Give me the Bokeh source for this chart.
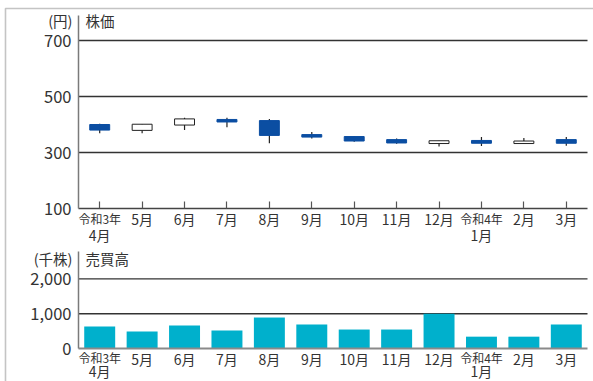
from bokeh.plotting import figure
from bokeh.models import (ColumnDataSource, Range1d, FixedTicker, Label, BoxAnnotation,
                          LinearAxis)
from bokeh.embed import file_html
from bokeh.resources import INLINE

# ---------------- data ----------------
months = ["4月", "5月", "6月", "7月", "8月", "9月", "10月", "11月", "12月", "1月", "2月", "3月"]
era_index = [0, 9]
era_text = ["令和3年", "令和4年"]
price_open = [400, 379, 398, 418, 414, 364, 357, 346, 332, 343, 332, 346]
price_close = [380, 401, 420, 409, 361, 355, 341, 334, 342, 333, 341, 333]
price_high = [403, 402, 424, 424, 420, 373, 358, 350, 342, 355, 352, 355]
price_low = [369, 369, 380, 390, 333, 350, 338, 331, 321, 323, 331, 324]
volume = [630, 485, 660, 520, 890, 690, 545, 545, 995, 340, 340, 690]
price_ticks = [100, 300, 500, 700]
volume_ticks = [0, 1000, 2000]
volume_tick_labels = ["0", "1,000", "2,000"]

# ---------------- layout constants (canvas pixels) ----------------
W, H = 593, 381
PLOT_L, PLOT_R = 78, 587
SX = (PLOT_R - PLOT_L) / len(months)
P_BASE_Y, P_PPU = 208, 0.28          # price 100 sits at y=208, 0.28 px per yen
V_BASE_Y, V_PPU = 348, 0.0348        # volume 0 sits at y=348


def cx(px):
    return -0.5 + (px - PLOT_L) / SX


def cp(py):
    return price_ticks[0] + (P_BASE_Y - py) / P_PPU


def cv(py):
    return (V_BASE_Y - py) / V_PPU


FONT = "Noto Sans CJK JP"
TXT = "#333333"
BLUE = "#0b4ea2"
TEAL = "#00b0cc"

xs = list(range(len(months)))
up = [c >= o for o, c in zip(price_open, price_close)]
candles = ColumnDataSource(dict(
    x=xs,
    top=[max(o, c) for o, c in zip(price_open, price_close)],
    bottom=[min(o, c) for o, c in zip(price_open, price_close)],
    high=price_high,
    low=price_low,
    fill=["#ffffff" if u else BLUE for u in up],
    line=["#222222" if u else BLUE for u in up],
))
vols = ColumnDataSource(dict(x=xs, v=volume))

p = figure(width=W, height=H, x_range=Range1d(cx(0), cx(W)), y_range=Range1d(cp(H), cp(0)),
           x_axis_location=None, y_axis_location=None, min_border=0,
           output_backend="svg", toolbar_location=None)
p.extra_y_ranges = {"vol": Range1d(cv(H), cv(0))}
p.outline_line_color = None
p.grid.visible = False
p.background_fill_color = "white"
p.border_fill_color = "white"

xmin, xmax = -0.5, len(months) - 0.5

# grid lines
p.segment(x0=xmin, x1=xmax, y0=price_ticks[1:], y1=price_ticks[1:], line_color="#333333", line_width=1.4)
p.segment(x0=xmin, x1=xmax, y0=volume_ticks[1:], y1=volume_ticks[1:], line_color="#333333",
          line_width=1.4, y_range_name="vol")


def y_axis(**kw):
    ax = LinearAxis(fixed_location=xmin, **kw)
    ax.axis_line_color = "#7a7a7a"
    ax.axis_line_width = 1.5
    ax.major_tick_line_color = None
    ax.minor_tick_line_color = None
    ax.major_tick_in = 0
    ax.major_tick_out = 0
    ax.major_label_standoff = 7
    ax.major_label_text_font = FONT
    ax.major_label_text_font_size = "16.5px"
    ax.major_label_text_color = TXT
    p.add_layout(ax, "left")
    return ax


def x_axis(ticks, labels, size, standoff, line=None, tick=False, **kw):
    ax = LinearAxis(ticker=FixedTicker(ticks=ticks, minor_ticks=[]), bounds=(xmin, xmax), **kw)
    ax.major_label_overrides = {t: s for t, s in zip(ticks, labels)}
    ax.major_label_text_font = FONT
    ax.major_label_text_font_size = size
    ax.major_label_text_color = TXT
    ax.major_label_standoff = standoff
    ax.minor_tick_line_color = None
    ax.major_tick_out = 0
    if tick:
        ax.major_tick_in = 7
        ax.major_tick_line_color = "#555555"
        ax.major_tick_line_width = 1.2
    else:
        ax.major_tick_in = 0
        ax.major_tick_line_color = None
    if line is None:
        ax.axis_line_color = None
    else:
        ax.axis_line_color, ax.axis_line_width = line
    p.add_layout(ax, "below")
    return ax


first_line = ["" if i in era_index else m for i, m in enumerate(months)]
second_line = [months[i] for i in era_index]

# price panel axes
y_axis(ticker=FixedTicker(ticks=price_ticks, minor_ticks=[]), bounds=(price_ticks[0], cp(15)))
x_axis(xs, first_line, "14px", 0, line=("#444444", 1.5), tick=True, fixed_location=price_ticks[0])
x_axis(era_index, era_text, "12px", 1, fixed_location=price_ticks[0])
x_axis(era_index, second_line, "14px", 16, fixed_location=price_ticks[0])

# volume panel axes
vy = y_axis(ticker=FixedTicker(ticks=volume_ticks, minor_ticks=[]), bounds=(0, cv(251)),
            y_range_name="vol")
vy.major_label_overrides = {t: s for t, s in zip(volume_ticks, volume_tick_labels)}
x_axis(xs, first_line, "14px", 0, line=("#8a8a8a", 2), y_range_name="vol", fixed_location=0)
x_axis(era_index, era_text, "12px", 0, y_range_name="vol", fixed_location=0)
x_axis(era_index, second_line, "14px", 12, y_range_name="vol", fixed_location=0)

# candlesticks
p.segment(x0="x", x1="x", y0="low", y1="high", source=candles, line_color="#222222", line_width=1.2)
p.vbar(x="x", top="top", bottom="bottom", width=0.47, source=candles,
       fill_color="fill", line_color="line", line_width=1)

# volume bars
p.vbar(x="x", top="v", bottom=0, width=0.73, source=vols, fill_color=TEAL, line_color=None,
       y_range_name="vol")

# panel captions
for txt, px, py, align, rng in [("(円)", 72, 20, "right", None), ("株価", 85, 20, "left", None),
                                ("(千株)", 72, 258, "right", "vol"), ("売買高", 85, 258, "left", "vol")]:
    kw = {"y_range_name": rng} if rng else {}
    p.add_layout(Label(x=cx(px), y=(cv(py) if rng else cp(py)), text=txt, text_align=align,
                       text_baseline="middle", text_font=FONT, text_font_size="14.5px",
                       text_color=TXT, **kw))

# outer frame (top and left rules)
p.add_layout(BoxAnnotation(left=cx(5), right=cx(W + 20), top=cp(8), bottom=cp(H + 20),
                           fill_color=None, line_color="#3c3c3c", line_width=1.6))

open("out.html", "w").write(file_html(p, INLINE))
